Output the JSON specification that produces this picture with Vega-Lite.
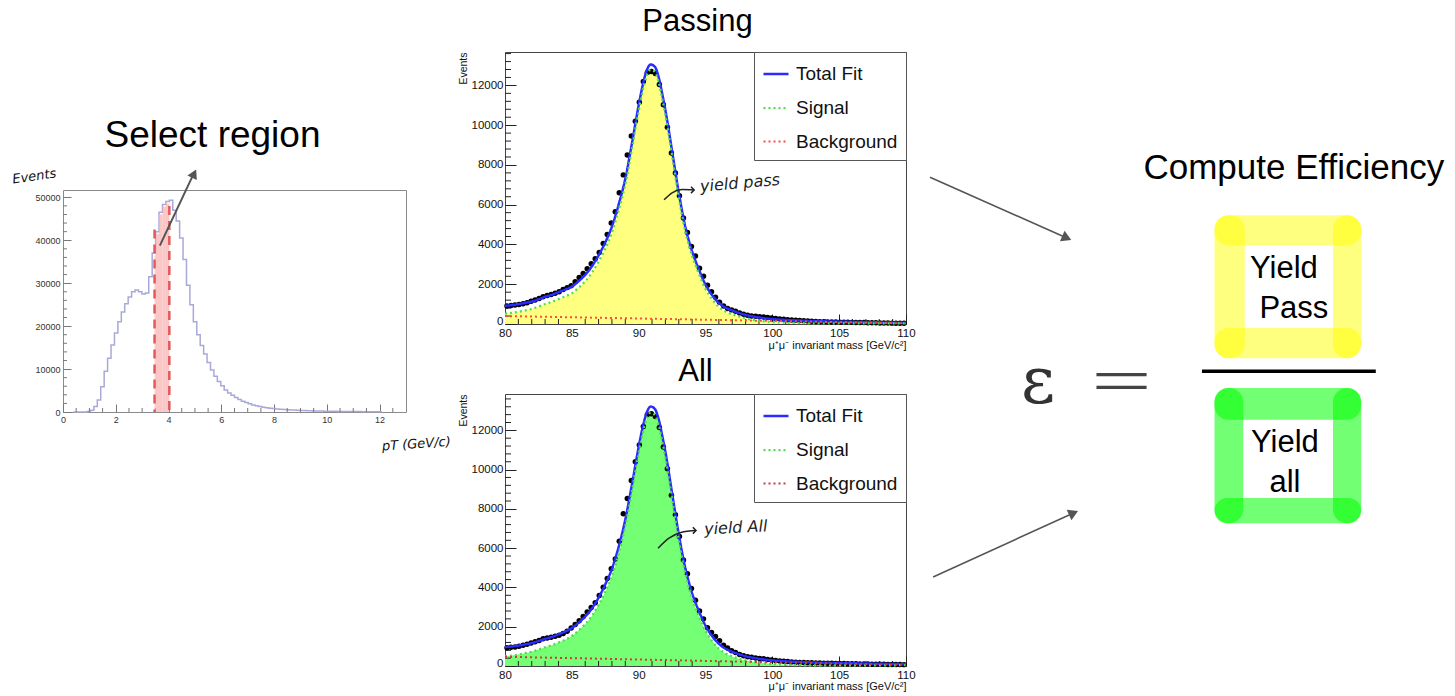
{
  "$schema": "https://vega.github.io/schema/vega-lite/v6.json",
  "padding": {"left": 10, "top": 5, "right": 0, "bottom": 0},
  "background": "white",
  "config": {"font": "Liberation Sans", "axis": {"grid": false, "domain": false}, "view": {"stroke": "#555"}, "tick": {"opacity": 1}},
  "spacing": 5,
  "resolve": {"scale": {"color": "independent", "opacity": "independent", "strokeDash": "independent", "strokeWidth": "independent", "size": "independent", "angle": "independent"}},
  "datasets": {
    "hist": [
      {"pt":0.39,"ev":0},{"pt":0.52,"ev":0},{"pt":0.65,"ev":0},{"pt":0.78,"ev":0},{"pt":0.91,"ev":100},{"pt":1.04,"ev":400},{"pt":1.17,"ev":1300},{"pt":1.30,"ev":2800},{"pt":1.43,"ev":5900},{"pt":1.56,"ev":9500},{"pt":1.69,"ev":12500},{"pt":1.82,"ev":15600},{"pt":1.95,"ev":18400},{"pt":2.08,"ev":21000},{"pt":2.21,"ev":23300},{"pt":2.34,"ev":25200},{"pt":2.47,"ev":26800},{"pt":2.60,"ev":28000},{"pt":2.73,"ev":28400},{"pt":2.86,"ev":28000},{"pt":2.99,"ev":27500},{"pt":3.12,"ev":27700},{"pt":3.25,"ev":31500},{"pt":3.38,"ev":37000},{"pt":3.51,"ev":42000},{"pt":3.64,"ev":46500},{"pt":3.77,"ev":48300},{"pt":3.90,"ev":49000},{"pt":4.03,"ev":49300},{"pt":4.16,"ev":47000},{"pt":4.29,"ev":44500},{"pt":4.42,"ev":40500},{"pt":4.55,"ev":35500},{"pt":4.68,"ev":29500},{"pt":4.81,"ev":25000},{"pt":4.94,"ev":21000},{"pt":5.07,"ev":18000},{"pt":5.20,"ev":15500},{"pt":5.33,"ev":13500},{"pt":5.46,"ev":11500},{"pt":5.59,"ev":9800},{"pt":5.72,"ev":8300},{"pt":5.85,"ev":7100},{"pt":5.98,"ev":6100},{"pt":6.11,"ev":5150},{"pt":6.24,"ev":4450},{"pt":6.37,"ev":3900},{"pt":6.50,"ev":3350},{"pt":6.63,"ev":2900},{"pt":6.76,"ev":2500},{"pt":6.89,"ev":2200},{"pt":7.02,"ev":1900},{"pt":7.15,"ev":1650},{"pt":7.28,"ev":1450},{"pt":7.41,"ev":1280},{"pt":7.54,"ev":1130},{"pt":7.67,"ev":1000},{"pt":7.80,"ev":900},{"pt":7.93,"ev":800},{"pt":8.06,"ev":720},{"pt":8.19,"ev":650},{"pt":8.32,"ev":590},{"pt":8.45,"ev":530},{"pt":8.58,"ev":480},{"pt":8.71,"ev":440},{"pt":8.84,"ev":400},{"pt":8.97,"ev":370},{"pt":9.10,"ev":340},{"pt":9.23,"ev":310},{"pt":9.36,"ev":285},{"pt":9.49,"ev":260},{"pt":9.62,"ev":240},{"pt":9.75,"ev":220},{"pt":9.88,"ev":200},{"pt":10.01,"ev":185},{"pt":10.14,"ev":170},{"pt":10.27,"ev":155},{"pt":10.40,"ev":145},{"pt":10.53,"ev":135},{"pt":10.66,"ev":125},{"pt":10.79,"ev":115},{"pt":10.92,"ev":105},{"pt":11.05,"ev":95},{"pt":11.18,"ev":90},{"pt":11.31,"ev":85},{"pt":11.44,"ev":80},{"pt":11.57,"ev":75},{"pt":11.70,"ev":70},{"pt":11.83,"ev":65},{"pt":11.96,"ev":60},{"pt":12.09,"ev":60}
    ],
    "sel": [
      {"pt":3.47,"pt2":3.51,"ev":36500},{"pt":3.51,"pt2":3.64,"ev":41500},{"pt":3.64,"pt2":3.77,"ev":46000},{"pt":3.77,"pt2":3.90,"ev":47800},{"pt":3.90,"pt2":4.03,"ev":48500}
    ],
    "histMinorX": [{"pt":0.5},{"pt":1},{"pt":1.5},{"pt":2.5},{"pt":3},{"pt":3.5},{"pt":4.5},{"pt":5},{"pt":5.5},{"pt":6.5},{"pt":7},{"pt":7.5},{"pt":8.5},{"pt":9},{"pt":9.5},{"pt":10.5},{"pt":11},{"pt":11.5},{"pt":12.5}],
    "histMinorY": [{"ev":2000},{"ev":4000},{"ev":6000},{"ev":8000},{"ev":12000},{"ev":14000},{"ev":16000},{"ev":18000},{"ev":22000},{"ev":24000},{"ev":26000},{"ev":28000},{"ev":32000},{"ev":34000},{"ev":36000},{"ev":38000},{"ev":42000},{"ev":44000},{"ev":46000},{"ev":48000}],
    "massMinorX": [{"m":81},{"m":82},{"m":83},{"m":84},{"m":86},{"m":87},{"m":88},{"m":89},{"m":91},{"m":92},{"m":93},{"m":94},{"m":96},{"m":97},{"m":98},{"m":99},{"m":101},{"m":102},{"m":103},{"m":104},{"m":106},{"m":107},{"m":108},{"m":109}],
    "massMinorY": [{"v":400},{"v":800},{"v":1200},{"v":1600},{"v":2400},{"v":2800},{"v":3200},{"v":3600},{"v":4400},{"v":4800},{"v":5200},{"v":5600},{"v":6400},{"v":6800},{"v":7200},{"v":7600},{"v":8400},{"v":8800},{"v":9200},{"v":9600},{"v":10400},{"v":10800},{"v":11200},{"v":11600},{"v":12400},{"v":12800},{"v":13200},{"v":13600}],
    "dataPass": [
      {"m":80.15,"v":910},{"m":80.45,"v":930},{"m":80.75,"v":960},{"m":81.05,"v":985},{"m":81.35,"v":1020},{"m":81.65,"v":1070},{"m":81.95,"v":1140},{"m":82.25,"v":1210},{"m":82.55,"v":1280},{"m":82.85,"v":1370},{"m":83.15,"v":1430},{"m":83.45,"v":1480},{"m":83.75,"v":1550},{"m":84.05,"v":1620},{"m":84.35,"v":1730},{"m":84.65,"v":1830},{"m":84.95,"v":1930},{"m":85.25,"v":2130},{"m":85.55,"v":2340},{"m":85.85,"v":2540},{"m":86.15,"v":2780},{"m":86.45,"v":3030},{"m":86.75,"v":3280},{"m":87.05,"v":3600},{"m":87.35,"v":4050},{"m":87.65,"v":4500},{"m":87.95,"v":5080},{"m":88.25,"v":5650},{"m":88.55,"v":6600},{"m":88.85,"v":7500},{"m":89.15,"v":8500},{"m":89.45,"v":9450},{"m":89.75,"v":10200},{"m":90.05,"v":11150},{"m":90.35,"v":12200},{"m":90.65,"v":12650},{"m":90.95,"v":12700},{"m":91.25,"v":12600},{"m":91.55,"v":12050},{"m":91.85,"v":11030},{"m":92.15,"v":9900},{"m":92.45,"v":8600},{"m":92.75,"v":7600},{"m":93.05,"v":6450},{"m":93.35,"v":5330},{"m":93.65,"v":4600},{"m":93.95,"v":3900},{"m":94.25,"v":3420},{"m":94.55,"v":2800},{"m":94.85,"v":2400},{"m":95.15,"v":1950},{"m":95.45,"v":1620},{"m":95.75,"v":1350},{"m":96.05,"v":1100},{"m":96.35,"v":900},{"m":96.65,"v":780},{"m":96.95,"v":710},{"m":97.25,"v":640},{"m":97.55,"v":550},{"m":97.85,"v":490},{"m":98.15,"v":440},{"m":98.45,"v":405},{"m":98.75,"v":385},{"m":99.05,"v":370},{"m":99.35,"v":350},{"m":99.65,"v":330},{"m":99.95,"v":305},{"m":100.25,"v":280},{"m":100.55,"v":255},{"m":100.85,"v":235},{"m":101.15,"v":215},{"m":101.45,"v":200},{"m":101.75,"v":185},{"m":102.05,"v":172},{"m":102.35,"v":160},{"m":102.65,"v":150},{"m":102.95,"v":135},{"m":103.25,"v":122},{"m":103.55,"v":118},{"m":103.85,"v":112},{"m":104.15,"v":105},{"m":104.45,"v":100},{"m":104.75,"v":96},{"m":105.05,"v":92},{"m":105.35,"v":88},{"m":105.65,"v":85},{"m":105.95,"v":82},{"m":106.25,"v":78},{"m":106.55,"v":74},{"m":106.85,"v":70},{"m":107.15,"v":66},{"m":107.45,"v":62},{"m":107.75,"v":58},{"m":108.05,"v":54},{"m":108.35,"v":50},{"m":108.65,"v":47},{"m":108.95,"v":44},{"m":109.25,"v":41},{"m":109.55,"v":38},{"m":109.85,"v":35}
    ],
    "dataAll": [
      {"m":80.15,"v":930},{"m":80.45,"v":950},{"m":80.75,"v":970},{"m":81.05,"v":1010},{"m":81.35,"v":1060},{"m":81.65,"v":1110},{"m":81.95,"v":1170},{"m":82.25,"v":1230},{"m":82.55,"v":1300},{"m":82.85,"v":1390},{"m":83.15,"v":1430},{"m":83.45,"v":1460},{"m":83.75,"v":1510},{"m":84.05,"v":1560},{"m":84.35,"v":1660},{"m":84.65,"v":1770},{"m":84.95,"v":1940},{"m":85.25,"v":2110},{"m":85.55,"v":2300},{"m":85.85,"v":2520},{"m":86.15,"v":2750},{"m":86.45,"v":2980},{"m":86.75,"v":3220},{"m":87.05,"v":3590},{"m":87.35,"v":4010},{"m":87.65,"v":4450},{"m":87.95,"v":4950},{"m":88.25,"v":5450},{"m":88.55,"v":6350},{"m":88.85,"v":7750},{"m":89.15,"v":8530},{"m":89.45,"v":9450},{"m":89.75,"v":10400},{"m":90.05,"v":11250},{"m":90.35,"v":12200},{"m":90.65,"v":12800},{"m":90.95,"v":12850},{"m":91.25,"v":12700},{"m":91.55,"v":12150},{"m":91.85,"v":11150},{"m":92.15,"v":10050},{"m":92.45,"v":8700},{"m":92.75,"v":7700},{"m":93.05,"v":6600},{"m":93.35,"v":5400},{"m":93.65,"v":4700},{"m":93.95,"v":3950},{"m":94.25,"v":3350},{"m":94.55,"v":2800},{"m":94.85,"v":2400},{"m":95.15,"v":1950},{"m":95.45,"v":1700},{"m":95.75,"v":1500},{"m":96.05,"v":1280},{"m":96.35,"v":1060},{"m":96.65,"v":920},{"m":96.95,"v":780},{"m":97.25,"v":690},{"m":97.55,"v":590},{"m":97.85,"v":520},{"m":98.15,"v":470},{"m":98.45,"v":440},{"m":98.75,"v":410},{"m":99.05,"v":385},{"m":99.35,"v":365},{"m":99.65,"v":335},{"m":99.95,"v":305},{"m":100.25,"v":285},{"m":100.55,"v":260},{"m":100.85,"v":240},{"m":101.15,"v":225},{"m":101.45,"v":210},{"m":101.75,"v":195},{"m":102.05,"v":185},{"m":102.35,"v":175},{"m":102.65,"v":165},{"m":102.95,"v":160},{"m":103.25,"v":155},{"m":103.55,"v":150},{"m":103.85,"v":145},{"m":104.15,"v":140},{"m":104.45,"v":135},{"m":104.75,"v":130},{"m":105.05,"v":127},{"m":105.35,"v":123},{"m":105.65,"v":120},{"m":105.95,"v":115},{"m":106.25,"v":110},{"m":106.55,"v":106},{"m":106.85,"v":102},{"m":107.15,"v":98},{"m":107.45,"v":94},{"m":107.75,"v":90},{"m":108.05,"v":86},{"m":108.35,"v":84},{"m":108.65,"v":80},{"m":108.95,"v":78},{"m":109.25,"v":75},{"m":109.55,"v":72},{"m":109.85,"v":70}
    ],
    "fitPass": [
      {"m":80,"Total Fit":920,"Signal":520,"Background":400},{"m":80.5,"Total Fit":950,"Signal":556,"Background":394},{"m":81,"Total Fit":1000,"Signal":612,"Background":388},{"m":81.5,"Total Fit":1060,"Signal":678,"Background":382},{"m":82,"Total Fit":1130,"Signal":755,"Background":375},{"m":82.5,"Total Fit":1240,"Signal":871,"Background":369},{"m":83,"Total Fit":1370,"Signal":1007,"Background":363},{"m":83.5,"Total Fit":1470,"Signal":1113,"Background":357},{"m":84,"Total Fit":1600,"Signal":1249,"Background":351},{"m":84.5,"Total Fit":1730,"Signal":1385,"Background":345},{"m":85,"Total Fit":1880,"Signal":1542,"Background":338},{"m":85.5,"Total Fit":2150,"Signal":1818,"Background":332},{"m":86,"Total Fit":2470,"Signal":2144,"Background":326},{"m":86.5,"Total Fit":2900,"Signal":2580,"Background":320},{"m":87,"Total Fit":3450,"Signal":3136,"Background":314},{"m":87.5,"Total Fit":4100,"Signal":3792,"Background":308},{"m":88,"Total Fit":4900,"Signal":4599,"Background":301},{"m":88.5,"Total Fit":6000,"Signal":5705,"Background":295},{"m":89,"Total Fit":7300,"Signal":7011,"Background":289},{"m":89.5,"Total Fit":9100,"Signal":8817,"Background":283},{"m":90,"Total Fit":11000,"Signal":10723,"Background":277},{"m":90.3,"Total Fit":12000,"Signal":11727,"Background":273},{"m":90.6,"Total Fit":12750,"Signal":12481,"Background":269},{"m":90.9,"Total Fit":13050,"Signal":12784,"Background":266},{"m":91.2,"Total Fit":12950,"Signal":12688,"Background":262},{"m":91.5,"Total Fit":12400,"Signal":12142,"Background":258},{"m":91.8,"Total Fit":11450,"Signal":11196,"Background":254},{"m":92,"Total Fit":10750,"Signal":10498,"Background":252},{"m":92.5,"Total Fit":8700,"Signal":8454,"Background":246},{"m":93,"Total Fit":6600,"Signal":6360,"Background":240},{"m":93.5,"Total Fit":4850,"Signal":4616,"Background":234},{"m":94,"Total Fit":3650,"Signal":3423,"Background":227},{"m":94.5,"Total Fit":2750,"Signal":2529,"Background":221},{"m":95,"Total Fit":1980,"Signal":1765,"Background":215},{"m":95.5,"Total Fit":1450,"Signal":1241,"Background":209},{"m":96,"Total Fit":1060,"Signal":857,"Background":203},{"m":96.5,"Total Fit":820,"Signal":623,"Background":197},{"m":97,"Total Fit":680,"Signal":490,"Background":190},{"m":97.5,"Total Fit":560,"Signal":376,"Background":184},{"m":98,"Total Fit":460,"Signal":282,"Background":178},{"m":99,"Total Fit":330,"Signal":164,"Background":166},{"m":100,"Total Fit":250,"Signal":97,"Background":153},{"m":101,"Total Fit":205,"Signal":64,"Background":141},{"m":102,"Total Fit":175,"Signal":46,"Background":129},{"m":103,"Total Fit":150,"Signal":34,"Background":116},{"m":105,"Total Fit":120,"Signal":28,"Background":92},{"m":107,"Total Fit":95,"Signal":28,"Background":67},{"m":110,"Total Fit":60,"Signal":30,"Background":30}
    ],
    "fitAll": [
      {"m":80,"Total Fit":970,"Signal":500,"Background":470},{"m":80.5,"Total Fit":995,"Signal":532,"Background":463},{"m":81,"Total Fit":1040,"Signal":584,"Background":456},{"m":81.5,"Total Fit":1100,"Signal":651,"Background":449},{"m":82,"Total Fit":1170,"Signal":728,"Background":442},{"m":82.5,"Total Fit":1270,"Signal":835,"Background":435},{"m":83,"Total Fit":1380,"Signal":952,"Background":428},{"m":83.5,"Total Fit":1480,"Signal":1059,"Background":421},{"m":84,"Total Fit":1610,"Signal":1196,"Background":414},{"m":84.5,"Total Fit":1750,"Signal":1343,"Background":407},{"m":85,"Total Fit":1930,"Signal":1530,"Background":400},{"m":85.5,"Total Fit":2200,"Signal":1807,"Background":393},{"m":86,"Total Fit":2520,"Signal":2134,"Background":386},{"m":86.5,"Total Fit":2930,"Signal":2551,"Background":379},{"m":87,"Total Fit":3480,"Signal":3108,"Background":372},{"m":87.5,"Total Fit":4150,"Signal":3785,"Background":365},{"m":88,"Total Fit":4950,"Signal":4592,"Background":358},{"m":88.5,"Total Fit":6050,"Signal":5699,"Background":351},{"m":89,"Total Fit":7450,"Signal":7106,"Background":344},{"m":89.5,"Total Fit":9250,"Signal":8913,"Background":337},{"m":90,"Total Fit":11150,"Signal":10820,"Background":330},{"m":90.3,"Total Fit":12150,"Signal":11824,"Background":326},{"m":90.6,"Total Fit":12900,"Signal":12578,"Background":322},{"m":90.9,"Total Fit":13210,"Signal":12893,"Background":317},{"m":91.2,"Total Fit":13100,"Signal":12787,"Background":313},{"m":91.5,"Total Fit":12550,"Signal":12241,"Background":309},{"m":91.8,"Total Fit":11600,"Signal":11295,"Background":305},{"m":92,"Total Fit":10900,"Signal":10598,"Background":302},{"m":92.5,"Total Fit":8800,"Signal":8505,"Background":295},{"m":93,"Total Fit":6700,"Signal":6412,"Background":288},{"m":93.5,"Total Fit":4950,"Signal":4669,"Background":281},{"m":94,"Total Fit":3700,"Signal":3426,"Background":274},{"m":94.5,"Total Fit":2800,"Signal":2533,"Background":267},{"m":95,"Total Fit":2050,"Signal":1790,"Background":260},{"m":95.5,"Total Fit":1520,"Signal":1267,"Background":253},{"m":96,"Total Fit":1130,"Signal":884,"Background":246},{"m":96.5,"Total Fit":880,"Signal":641,"Background":239},{"m":97,"Total Fit":720,"Signal":488,"Background":232},{"m":97.5,"Total Fit":600,"Signal":375,"Background":225},{"m":98,"Total Fit":500,"Signal":282,"Background":218},{"m":99,"Total Fit":370,"Signal":166,"Background":204},{"m":100,"Total Fit":290,"Signal":100,"Background":190},{"m":101,"Total Fit":240,"Signal":64,"Background":176},{"m":102,"Total Fit":205,"Signal":43,"Background":162},{"m":103,"Total Fit":180,"Signal":32,"Background":148},{"m":105,"Total Fit":150,"Signal":30,"Background":120},{"m":107,"Total Fit":125,"Signal":33,"Background":92},{"m":110,"Total Fit":90,"Signal":40,"Background":50}
    ],
    "frames": [
      {"box":"pass","x1":54.5,"x2":82.6,"y1":25.25,"y2":29.85},
      {"box":"pass","x1":54.5,"x2":82.6,"y1":42.65,"y2":47.35},
      {"box":"pass","x1":54.5,"x2":60.3,"y1":25.25,"y2":47.35},
      {"box":"pass","x1":77.2,"x2":82.6,"y1":25.25,"y2":47.35},
      {"box":"all","x1":54.5,"x2":82.6,"y1":51.95,"y2":56.85},
      {"box":"all","x1":54.5,"x2":82.6,"y1":68.95,"y2":72.85},
      {"box":"all","x1":54.5,"x2":60.0,"y1":51.95,"y2":72.85},
      {"box":"all","x1":77.2,"x2":82.6,"y1":51.95,"y2":72.85}
    ],
    "rtext": [
      {"tx":69.7,"ty":19.6,"t":"Compute Efficiency","fs":35},
      {"tx":67.8,"ty":34.95,"t":"Yield","fs":31},
      {"tx":69.7,"ty":41.15,"t":"Pass","fs":31},
      {"tx":68.0,"ty":61.75,"t":"Yield","fs":31},
      {"tx":68.0,"ty":67.95,"t":"all","fs":31}
    ]
  },
  "hconcat": [
    {
      "spacing": 20,
      "vconcat": [
        {"width": 10, "height": 44, "view": {"stroke": null}, "data": {"values": [{"a": 1}]}, "mark": {"type": "point", "opacity": 0}},
        {
          "width": 343, "height": 222,
          "view": {"stroke": "#8a8a8a"},
          "title": {"text": "Select region", "fontSize": 37, "fontWeight": "normal", "font": "Liberation Sans", "color": "#000", "offset": 12, "frame": "group", "anchor": "middle", "dx": -22},
          "layer": [
            {
              "data": {"name": "hist"},
              "mark": {"type": "line", "interpolate": "step-after", "color": "#a9a9d9", "strokeWidth": 1.5},
              "encoding": {
                "x": {"field": "pt", "type": "quantitative", "scale": {"domain": [0, 13], "nice": false, "zero": false}, "title": "pT (GeV/c)",
                  "axis": {"values": [0,2,4,6,8,10,12], "tickSize": -8, "tickColor": "#777", "labelFontSize": 9, "labelColor": "#333", "labelPadding": 11, "labelFlush": false, "labelOverlap": false, "format": "d", "titleFontSize": 13, "titleFont": "DejaVu Sans", "titleFontStyle": "italic", "titleFontWeight": "normal", "titleColor": "#111", "titleX": 318, "titleY": 28, "titleAlign": "left", "titleAngle": -4}},
                "y": {"field": "ev", "type": "quantitative", "scale": {"domain": [0, 51700], "nice": false}, "title": "Events",
                  "axis": {"values": [0,10000,20000,30000,40000,50000], "tickSize": -8, "tickColor": "#777", "labelFontSize": 9, "labelColor": "#333", "labelPadding": 11, "labelOverlap": false, "format": "d", "titleFontSize": 13, "titleFont": "DejaVu Sans", "titleFontStyle": "italic", "titleFontWeight": "normal", "titleColor": "#111", "titleX": -50, "titleY": -4, "titleAlign": "left", "titleBaseline": "bottom", "titleAngle": -8}}
              }
            },
            {
              "data": {"name": "histMinorX"},
              "mark": {"type": "tick", "orient": "vertical", "size": 4, "thickness": 1, "yOffset": -2, "color": "#777"},
              "encoding": {
                "x": {"field": "pt", "type": "quantitative", "scale": {"domain": [0, 13], "nice": false, "zero": false}, "title": "pT (GeV/c)"},
                "y": {"datum": 0, "type": "quantitative", "scale": {"domain": [0, 51700], "nice": false}, "title": "Events"}
              }
            },
            {
              "data": {"name": "histMinorY"},
              "mark": {"type": "tick", "orient": "horizontal", "size": 4, "thickness": 1, "xOffset": 2, "color": "#777"},
              "encoding": {
                "x": {"datum": 0, "type": "quantitative", "scale": {"domain": [0, 13], "nice": false, "zero": false}, "title": "pT (GeV/c)"},
                "y": {"field": "ev", "type": "quantitative", "scale": {"domain": [0, 51700], "nice": false}, "title": "Events"}
              }
            },
            {
              "data": {"name": "sel"},
              "mark": {"type": "rect", "color": "#f9b3b3", "opacity": 0.75},
              "encoding": {
                "x": {"field": "pt", "type": "quantitative", "scale": {"domain": [0, 13], "nice": false, "zero": false}, "title": "pT (GeV/c)"},
                "x2": {"field": "pt2"},
                "y": {"field": "ev", "type": "quantitative", "scale": {"domain": [0, 51700], "nice": false}, "title": "Events"},
                "y2": {"datum": 0}
              }
            },
            {
              "data": {"values": [{"pt": 3.47, "ev": 42500}, {"pt": 4.03, "ev": 48000}]},
              "mark": {"type": "rule", "color": "#e05a5a", "strokeWidth": 2.5, "strokeDash": [9, 6]},
              "encoding": {
                "x": {"field": "pt", "type": "quantitative", "scale": {"domain": [0, 13], "nice": false, "zero": false}, "title": "pT (GeV/c)"},
                "y": {"field": "ev", "type": "quantitative", "scale": {"domain": [0, 51700], "nice": false}, "title": "Events"},
                "y2": {"datum": 0}
              }
            },
            {
              "data": {"values": [{"pt": 3.67, "ev": 38750, "pt2": 4.95, "ev2": 55450}]},
              "mark": {"type": "rule", "color": "#555", "strokeWidth": 2},
              "encoding": {
                "x": {"field": "pt", "type": "quantitative", "scale": {"domain": [0, 13], "nice": false, "zero": false}, "title": "pT (GeV/c)"},
                "x2": {"field": "pt2"},
                "y": {"field": "ev", "type": "quantitative", "scale": {"domain": [0, 51700], "nice": false}, "title": "Events"},
                "y2": {"field": "ev2"}
              }
            },
            {
              "data": {"values": [{"pt": 4.97, "ev": 55500}]},
              "mark": {"type": "point", "shape": "triangle-up", "filled": true, "color": "#555", "size": 110, "angle": 26, "opacity": 1},
              "encoding": {
                "x": {"field": "pt", "type": "quantitative", "scale": {"domain": [0, 13], "nice": false, "zero": false}, "title": "pT (GeV/c)"},
                "y": {"field": "ev", "type": "quantitative", "scale": {"domain": [0, 51700], "nice": false}, "title": "Events"}
              }
            }
          ]
        }
      ]
    },
    {
      "spacing": 13,
      "resolve": {"scale": {"color": "independent", "opacity": "independent", "strokeDash": "independent", "strokeWidth": "independent", "size": "independent", "angle": "independent"}},
      "hconcat": [
        {
          "spacing": 4,
          "resolve": {"scale": {"x": "independent", "y": "independent", "color": "independent", "strokeDash": "independent", "strokeWidth": "independent"}, "legend": {"color": "independent", "strokeDash": "independent"}},
          "vconcat": [
            {
              "width": 401, "height": 272,
              "view": {"stroke": "#444"},
              "title": {"text": "Passing", "fontSize": 31, "fontWeight": "normal", "font": "Liberation Sans", "color": "#000", "offset": 14, "frame": "group", "anchor": "middle", "dx": -8},
              "layer": [
                {
                  "data": {"name": "fitPass"},
                  "mark": {"type": "area", "color": "#ffff80", "interpolate": "monotone", "opacity": 1},
                  "encoding": {
                    "x": {"field": "m", "type": "quantitative", "scale": {"domain": [80, 110], "nice": false, "zero": false}, "title": "μ⁺μ⁻ invariant mass [GeV/c²]",
                      "axis": {"values": [80,85,90,95,100,105,110], "tickSize": -10, "tickColor": "#222", "labelFontSize": 11.5, "labelColor": "#111", "labelPadding": 13, "labelFlush": false, "labelOverlap": false, "format": "d", "titleFontSize": 11, "titleFontWeight": "normal", "titleColor": "#111", "titleAnchor": "end", "titlePadding": 1}},
                    "y": {"field": "Signal", "type": "quantitative", "scale": {"domain": [0, 13680], "nice": false}, "title": "Events",
                      "axis": {"values": [0,2000,4000,6000,8000,10000,12000], "tickSize": -11, "tickColor": "#222", "labelFontSize": 11.5, "labelColor": "#111", "labelPadding": 13, "labelOverlap": false, "labelOffset": {"condition": {"test": "datum.value === 0", "value": -3}, "value": 0}, "format": "d", "titleFontSize": 10.5, "titleFontWeight": "normal", "titleColor": "#111", "titleAnchor": "end", "titlePadding": 3}}
                  }
                },
                {
                  "data": {"name": "massMinorX"},
                  "mark": {"type": "tick", "orient": "vertical", "size": 5, "thickness": 1, "yOffset": -2.5, "color": "#222"},
                  "encoding": {
                    "x": {"field": "m", "type": "quantitative", "scale": {"domain": [80, 110], "nice": false, "zero": false}, "title": "μ⁺μ⁻ invariant mass [GeV/c²]"},
                    "y": {"datum": 0, "type": "quantitative", "scale": {"domain": [0, 13680], "nice": false}, "title": "Events"}
                  }
                },
                {
                  "data": {"name": "massMinorY"},
                  "mark": {"type": "tick", "orient": "horizontal", "size": 6, "thickness": 1, "xOffset": 3, "color": "#222"},
                  "encoding": {
                    "x": {"datum": 80, "type": "quantitative", "scale": {"domain": [80, 110], "nice": false, "zero": false}, "title": "μ⁺μ⁻ invariant mass [GeV/c²]"},
                    "y": {"field": "v", "type": "quantitative", "scale": {"domain": [0, 13680], "nice": false}, "title": "Events"}
                  }
                },
                {
                  "data": {"name": "dataPass"},
                  "mark": {"type": "circle", "size": 30, "color": "#000", "opacity": 1},
                  "encoding": {
                    "x": {"field": "m", "type": "quantitative", "scale": {"domain": [80, 110], "nice": false, "zero": false}, "title": "μ⁺μ⁻ invariant mass [GeV/c²]"},
                    "y": {"field": "v", "type": "quantitative", "scale": {"domain": [0, 13680], "nice": false}, "title": "Events"}
                  }
                },
                {
                  "data": {"name": "fitPass"},
                  "transform": [{"fold": ["Total Fit", "Signal", "Background"], "as": ["component", "val"]}],
                  "mark": {"type": "line", "interpolate": "monotone"},
                  "encoding": {
                    "x": {"field": "m", "type": "quantitative", "scale": {"domain": [80, 110], "nice": false, "zero": false}, "title": "μ⁺μ⁻ invariant mass [GeV/c²]"},
                    "y": {"field": "val", "type": "quantitative", "scale": {"domain": [0, 13680], "nice": false}, "title": "Events"},
                    "color": {"field": "component", "type": "nominal", "scale": {"domain": ["Total Fit", "Signal", "Background"], "range": ["#2b2bff", "#4be04b", "#ff4a4a"]},
                      "legend": {"orient": "top-right", "offset": 0, "title": null, "strokeColor": "#555", "fillColor": "#fff", "padding": 8, "labelFontSize": 19, "labelFont": "Liberation Sans", "labelColor": "#111", "symbolType": "stroke", "symbolSize": 625, "symbolStrokeWidth": 2, "rowPadding": 10, "labelOffset": 6, "labelLimit": 300}},
                    "strokeDash": {"field": "component", "type": "nominal", "scale": {"domain": ["Total Fit", "Signal", "Background"], "range": [[1, 0], [2, 3], [2, 3]]},
                      "legend": {"orient": "top-right", "offset": 0, "title": null, "strokeColor": "#555", "fillColor": "#fff", "padding": 8, "labelFontSize": 19, "labelFont": "Liberation Sans", "labelColor": "#111", "symbolType": "stroke", "symbolSize": 625, "symbolStrokeWidth": 2, "rowPadding": 10, "labelOffset": 6, "labelLimit": 300}},
                    "strokeWidth": {"field": "component", "type": "nominal", "scale": {"domain": ["Total Fit", "Signal", "Background"], "range": [2.5, 2, 2]}, "legend": null}
                  }
                },
                {
                  "data": {"values": [{"m": 91.9, "v": 6245}, {"m": 92.5, "v": 6600}, {"m": 93.25, "v": 6760}, {"m": 94.15, "v": 6740}]},
                  "mark": {"type": "line", "interpolate": "monotone", "color": "#222", "strokeWidth": 1.5},
                  "encoding": {
                    "x": {"field": "m", "type": "quantitative", "scale": {"domain": [80, 110], "nice": false, "zero": false}, "title": "μ⁺μ⁻ invariant mass [GeV/c²]"},
                    "y": {"field": "v", "type": "quantitative", "scale": {"domain": [0, 13680], "nice": false}, "title": "Events"}
                  }
                },
                {
                  "data": {"values": [{"m": 94.15, "v": 6740}]},
                  "mark": {"type": "point", "shape": "M-1,-1L0,0L-1,1", "filled": false, "color": "#222", "strokeWidth": 1.5, "size": 40, "opacity": 1},
                  "encoding": {
                    "x": {"field": "m", "type": "quantitative", "scale": {"domain": [80, 110], "nice": false, "zero": false}, "title": "μ⁺μ⁻ invariant mass [GeV/c²]"},
                    "y": {"field": "v", "type": "quantitative", "scale": {"domain": [0, 13680], "nice": false}, "title": "Events"}
                  }
                },
                {
                  "data": {"values": [{"m": 94.6, "v": 6900, "label": "yield pass"}]},
                  "mark": {"type": "text", "align": "left", "baseline": "middle", "fontSize": 16, "font": "DejaVu Sans", "fontStyle": "italic", "angle": 355, "color": "#222"},
                  "encoding": {
                    "x": {"field": "m", "type": "quantitative", "scale": {"domain": [80, 110], "nice": false, "zero": false}, "title": "μ⁺μ⁻ invariant mass [GeV/c²]"},
                    "y": {"field": "v", "type": "quantitative", "scale": {"domain": [0, 13680], "nice": false}, "title": "Events"},
                    "text": {"field": "label"}
                  }
                }
              ]
            },
            {
              "width": 401, "height": 272,
              "view": {"stroke": "#444"},
              "title": {"text": "All", "fontSize": 31, "fontWeight": "normal", "font": "Liberation Sans", "color": "#000", "offset": 6, "frame": "group", "anchor": "middle", "dx": -10},
              "layer": [
                {
                  "data": {"name": "fitAll"},
                  "mark": {"type": "area", "color": "#74ff74", "interpolate": "monotone", "opacity": 1},
                  "encoding": {
                    "x": {"field": "m", "type": "quantitative", "scale": {"domain": [80, 110], "nice": false, "zero": false}, "title": "μ⁺μ⁻ invariant mass [GeV/c²]",
                      "axis": {"values": [80,85,90,95,100,105,110], "tickSize": -10, "tickColor": "#222", "labelFontSize": 11.5, "labelColor": "#111", "labelPadding": 13, "labelFlush": false, "labelOverlap": false, "format": "d", "titleFontSize": 11, "titleFontWeight": "normal", "titleColor": "#111", "titleAnchor": "end", "titlePadding": 0}},
                    "y": {"field": "Signal", "type": "quantitative", "scale": {"domain": [0, 13850], "nice": false}, "title": "Events",
                      "axis": {"values": [0,2000,4000,6000,8000,10000,12000], "tickSize": -11, "tickColor": "#222", "labelFontSize": 11.5, "labelColor": "#111", "labelPadding": 13, "labelOverlap": false, "labelOffset": {"condition": {"test": "datum.value === 0", "value": -3}, "value": 0}, "format": "d", "titleFontSize": 10.5, "titleFontWeight": "normal", "titleColor": "#111", "titleAnchor": "end", "titlePadding": 3}}
                  }
                },
                {
                  "data": {"name": "massMinorX"},
                  "mark": {"type": "tick", "orient": "vertical", "size": 5, "thickness": 1, "yOffset": -2.5, "color": "#222"},
                  "encoding": {
                    "x": {"field": "m", "type": "quantitative", "scale": {"domain": [80, 110], "nice": false, "zero": false}, "title": "μ⁺μ⁻ invariant mass [GeV/c²]"},
                    "y": {"datum": 0, "type": "quantitative", "scale": {"domain": [0, 13850], "nice": false}, "title": "Events"}
                  }
                },
                {
                  "data": {"name": "massMinorY"},
                  "mark": {"type": "tick", "orient": "horizontal", "size": 6, "thickness": 1, "xOffset": 3, "color": "#222"},
                  "encoding": {
                    "x": {"datum": 80, "type": "quantitative", "scale": {"domain": [80, 110], "nice": false, "zero": false}, "title": "μ⁺μ⁻ invariant mass [GeV/c²]"},
                    "y": {"field": "v", "type": "quantitative", "scale": {"domain": [0, 13850], "nice": false}, "title": "Events"}
                  }
                },
                {
                  "data": {"name": "dataAll"},
                  "mark": {"type": "circle", "size": 30, "color": "#000", "opacity": 1},
                  "encoding": {
                    "x": {"field": "m", "type": "quantitative", "scale": {"domain": [80, 110], "nice": false, "zero": false}, "title": "μ⁺μ⁻ invariant mass [GeV/c²]"},
                    "y": {"field": "v", "type": "quantitative", "scale": {"domain": [0, 13850], "nice": false}, "title": "Events"}
                  }
                },
                {
                  "data": {"name": "fitAll"},
                  "transform": [{"fold": ["Total Fit", "Signal", "Background"], "as": ["component", "val"]}],
                  "mark": {"type": "line", "interpolate": "monotone"},
                  "encoding": {
                    "x": {"field": "m", "type": "quantitative", "scale": {"domain": [80, 110], "nice": false, "zero": false}, "title": "μ⁺μ⁻ invariant mass [GeV/c²]"},
                    "y": {"field": "val", "type": "quantitative", "scale": {"domain": [0, 13850], "nice": false}, "title": "Events"},
                    "color": {"field": "component", "type": "nominal", "scale": {"domain": ["Total Fit", "Signal", "Background"], "range": ["#2b2bff", "#4be04b", "#d03a3a"]},
                      "legend": {"orient": "top-right", "offset": 0, "title": null, "strokeColor": "#555", "fillColor": "#fff", "padding": 8, "labelFontSize": 19, "labelFont": "Liberation Sans", "labelColor": "#111", "symbolType": "stroke", "symbolSize": 625, "symbolStrokeWidth": 2, "rowPadding": 10, "labelOffset": 6, "labelLimit": 300}},
                    "strokeDash": {"field": "component", "type": "nominal", "scale": {"domain": ["Total Fit", "Signal", "Background"], "range": [[1, 0], [2, 3], [2, 3]]},
                      "legend": {"orient": "top-right", "offset": 0, "title": null, "strokeColor": "#555", "fillColor": "#fff", "padding": 8, "labelFontSize": 19, "labelFont": "Liberation Sans", "labelColor": "#111", "symbolType": "stroke", "symbolSize": 625, "symbolStrokeWidth": 2, "rowPadding": 10, "labelOffset": 6, "labelLimit": 300}},
                    "strokeWidth": {"field": "component", "type": "nominal", "scale": {"domain": ["Total Fit", "Signal", "Background"], "range": [2.5, 2, 2]}, "legend": null}
                  }
                },
                {
                  "data": {"values": [{"m": 91.45, "v": 6000}, {"m": 92.27, "v": 6510}, {"m": 93.16, "v": 6800}, {"m": 94.29, "v": 6900}]},
                  "mark": {"type": "line", "interpolate": "monotone", "color": "#222", "strokeWidth": 1.5},
                  "encoding": {
                    "x": {"field": "m", "type": "quantitative", "scale": {"domain": [80, 110], "nice": false, "zero": false}, "title": "μ⁺μ⁻ invariant mass [GeV/c²]"},
                    "y": {"field": "v", "type": "quantitative", "scale": {"domain": [0, 13850], "nice": false}, "title": "Events"}
                  }
                },
                {
                  "data": {"values": [{"m": 94.29, "v": 6900}]},
                  "mark": {"type": "point", "shape": "M-1,-1L0,0L-1,1", "filled": false, "color": "#222", "strokeWidth": 1.5, "size": 40, "opacity": 1},
                  "encoding": {
                    "x": {"field": "m", "type": "quantitative", "scale": {"domain": [80, 110], "nice": false, "zero": false}, "title": "μ⁺μ⁻ invariant mass [GeV/c²]"},
                    "y": {"field": "v", "type": "quantitative", "scale": {"domain": [0, 13850], "nice": false}, "title": "Events"}
                  }
                },
                {
                  "data": {"values": [{"m": 94.9, "v": 6950, "label": "yield All"}]},
                  "mark": {"type": "text", "align": "left", "baseline": "middle", "fontSize": 16, "font": "DejaVu Sans", "fontStyle": "italic", "angle": 357, "color": "#222"},
                  "encoding": {
                    "x": {"field": "m", "type": "quantitative", "scale": {"domain": [80, 110], "nice": false, "zero": false}, "title": "μ⁺μ⁻ invariant mass [GeV/c²]"},
                    "y": {"field": "v", "type": "quantitative", "scale": {"domain": [0, 13850], "nice": false}, "title": "Events"},
                    "text": {"field": "label"}
                  }
                }
              ]
            }
          ]
        },
        {
          "width": 522, "height": 647,
          "view": {"stroke": null},
          "layer": [
            {
              "data": {"name": "frames"},
              "mark": {"type": "rect", "cornerRadius": 14},
              "encoding": {
                "x": {"field": "x1", "type": "quantitative", "scale": {"domain": [0, 100], "nice": false, "zero": false}, "axis": null},
                "x2": {"field": "x2"},
                "y": {"field": "y1", "type": "quantitative", "scale": {"domain": [0, 100], "nice": false, "reverse": true}, "axis": null},
                "y2": {"field": "y2"},
                "color": {"field": "box", "type": "nominal", "scale": {"domain": ["pass", "all"], "range": ["#ffff00", "#00ff00"]}, "legend": null},
                "opacity": {"field": "box", "type": "nominal", "scale": {"domain": ["pass", "all"], "range": [0.5, 0.55]}, "legend": null}
              }
            },
            {
              "data": {"name": "rtext"},
              "mark": {"type": "text", "font": "Liberation Sans", "baseline": "alphabetic", "align": "center", "color": "#000"},
              "encoding": {
                "x": {"field": "tx", "type": "quantitative", "scale": {"domain": [0, 100], "nice": false, "zero": false}, "axis": null},
                "y": {"field": "ty", "type": "quantitative", "scale": {"domain": [0, 100], "nice": false, "reverse": true}, "axis": null},
                "text": {"field": "t"},
                "size": {"field": "fs", "type": "quantitative", "scale": null}
              }
            },
            {
              "data": {"values": [{"tx": 20.7, "ty": 54.25, "t": "ε"}]},
              "mark": {"type": "text", "font": "DejaVu Serif", "fontSize": 66, "color": "#333", "align": "center", "baseline": "alphabetic"},
              "encoding": {
                "x": {"field": "tx", "type": "quantitative", "scale": {"domain": [0, 100], "nice": false, "zero": false}, "axis": null},
                "y": {"field": "ty", "type": "quantitative", "scale": {"domain": [0, 100], "nice": false, "reverse": true}, "axis": null},
                "text": {"field": "t"}
              }
            },
            {
              "data": {"values": [{"tx": 36.7, "ty": 51.05, "t": "="}]},
              "mark": {"type": "text", "font": "DejaVu Sans", "fontWeight": 200, "fontSize": 80, "color": "#444", "align": "center", "baseline": "middle"},
              "encoding": {
                "x": {"field": "tx", "type": "quantitative", "scale": {"domain": [0, 100], "nice": false, "zero": false}, "axis": null},
                "y": {"field": "ty", "type": "quantitative", "scale": {"domain": [0, 100], "nice": false, "reverse": true}, "axis": null},
                "text": {"field": "t"}
              }
            },
            {
              "data": {"values": [{"x1": 52.1, "x2": 85.4, "y1": 49.35}]},
              "mark": {"type": "rule", "color": "#000", "strokeWidth": 3.5},
              "encoding": {
                "x": {"field": "x1", "type": "quantitative", "scale": {"domain": [0, 100], "nice": false, "zero": false}, "axis": null},
                "x2": {"field": "x2"},
                "y": {"field": "y1", "type": "quantitative", "scale": {"domain": [0, 100], "nice": false, "reverse": true}, "axis": null}
              }
            },
            {
              "data": {"values": [{"x1": 0, "y1": 19.35, "x2": 26.2, "y2": 28.75}, {"x1": 0.6, "y1": 81.15, "x2": 27.5, "y2": 71.25}]},
              "mark": {"type": "rule", "color": "#555", "strokeWidth": 1.6},
              "encoding": {
                "x": {"field": "x1", "type": "quantitative", "scale": {"domain": [0, 100], "nice": false, "zero": false}, "axis": null},
                "x2": {"field": "x2"},
                "y": {"field": "y1", "type": "quantitative", "scale": {"domain": [0, 100], "nice": false, "reverse": true}, "axis": null},
                "y2": {"field": "y2"}
              }
            },
            {
              "data": {"values": [{"x1": 26.2, "y1": 28.75, "a": 24}, {"x1": 27.5, "y1": 71.25, "a": 335.5}]},
              "mark": {"type": "point", "shape": "triangle-right", "filled": true, "color": "#555", "size": 130, "opacity": 1},
              "encoding": {
                "x": {"field": "x1", "type": "quantitative", "scale": {"domain": [0, 100], "nice": false, "zero": false}, "axis": null},
                "y": {"field": "y1", "type": "quantitative", "scale": {"domain": [0, 100], "nice": false, "reverse": true}, "axis": null},
                "angle": {"field": "a", "type": "quantitative", "scale": null}
              }
            }
          ]
        }
      ]
    }
  ]
}
